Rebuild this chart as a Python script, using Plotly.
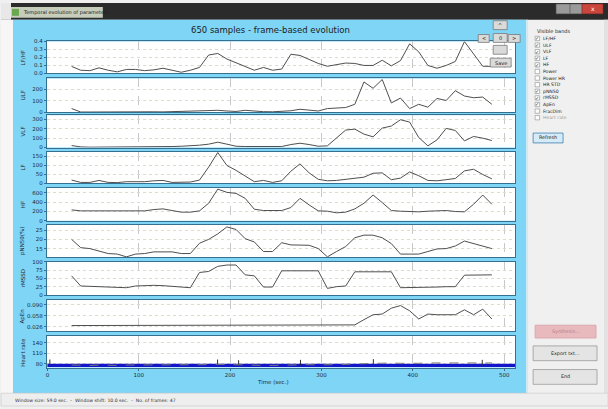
import plotly.graph_objects as go

# ---------------------------------------------------------------- data
frame_time = [26.5, 36.5, 46.5, 56.5, 66.5, 76.5, 86.5, 96.5, 106.5, 116.5,
              126.5, 136.5, 146.5, 156.5, 166.5, 176.5, 186.5, 196.5, 206.5, 216.5,
              226.5, 236.5, 246.5, 256.5, 266.5, 276.5, 286.5, 296.5, 306.5, 316.5,
              326.5, 336.5, 346.5, 356.5, 366.5, 376.5, 386.5, 396.5, 406.5, 416.5,
              426.5, 436.5, 446.5, 456.5, 466.5, 476.5, 486.5]

lf_hf = [0.088, 0.040, 0.035, 0.070, 0.040, 0.020, 0.050, 0.050, 0.035, 0.045,
         0.065, 0.040, 0.015, 0.040, 0.075, 0.230, 0.250, 0.180, 0.130, 0.090,
         0.040, 0.075, 0.040, 0.055, 0.240, 0.225, 0.175, 0.125, 0.090, 0.110,
         0.130, 0.125, 0.100, 0.100, 0.165, 0.095, 0.160, 0.370, 0.270, 0.100,
         0.065, 0.100, 0.150, 0.398, 0.240, 0.090, 0.088]

ulf = [33, 3, 3, 4, 3, 2, 3, 4, 3, 5,
       4, 6, 5, 8, 12, 10, 18, 12, 8, 18,
       10, 6, 5, 8, 14, 27, 18, 12, 33, 39,
       42, 70, 264, 209, 285, 82, 124, 33, 70, 45,
       121, 103, 188, 142, 127, 133, 70]

vlf = [21, 7, 4, 4, 4, 4, 4, 4, 4, 7,
       11, 11, 14, 18, 25, 36, 57, 36, 14, 11,
       11, 7, 7, 11, 32, 46, 32, 14, 18, 100,
       186, 196, 143, 114, 207, 229, 296, 271, 107, 18,
       82, 204, 182, 71, 118, 100, 75]

lf = [18, 5, 5, 16, 5, 4, 9, 9, 9, 14,
      16, 5, 4, 7, 18, 90, 171, 99, 72, 40,
      9, 16, 5, 14, 67, 108, 58, 22, 14, 16,
      22, 29, 34, 56, 58, 20, 29, 63, 42, 16,
      14, 20, 27, 69, 78, 49, 25]

hf = [233, 212, 212, 212, 212, 212, 212, 212, 212, 240,
      254, 219, 184, 184, 212, 375, 678, 608, 587, 480,
      247, 219, 212, 219, 283, 480, 339, 212, 205, 170,
      184, 254, 375, 551, 389, 219, 205, 191, 191, 205,
      219, 219, 198, 191, 353, 551, 353]

pnn50 = [20.0, 15.5, 15.0, 13.6, 12.3, 12.0, 10.5, 12.0, 12.3, 13.2,
         13.2, 13.2, 12.3, 12.3, 17.9, 20.0, 23.0, 26.8, 25.4, 20.4,
         18.6, 13.4, 13.4, 18.2, 17.0, 17.0, 16.8, 15.0, 10.5, 13.4,
         16.1, 20.9, 22.3, 22.3, 20.9, 17.7, 12.0, 12.0, 12.0, 13.4,
         14.8, 15.0, 16.4, 19.1, 17.7, 16.4, 15.0]

rmssd = [57.6, 27.3, 26.3, 25.3, 23.2, 23.2, 22.2, 27.3, 29.3, 29.3,
         28.3, 26.3, 22.2, 22.2, 67.7, 70.7, 85.9, 89.9, 89.9, 60.6,
         57.6, 24.2, 24.2, 72.7, 72.7, 72.7, 72.7, 72.7, 20.2, 25.3,
         27.3, 69.7, 69.7, 69.7, 69.7, 69.7, 22.2, 22.2, 23.2, 24.2,
         24.2, 25.3, 25.3, 59.6, 60.6, 60.6, 60.6]

apen = [0.0298, 0.0298, 0.0298, 0.0298, 0.0298, 0.0300, 0.0300, 0.0300, 0.0300, 0.0302,
        0.0302, 0.0305, 0.0305, 0.0308, 0.0310, 0.0315, 0.0317, 0.0317, 0.0312, 0.0310,
        0.0308, 0.0305, 0.0305, 0.0305, 0.0308, 0.0310, 0.0308, 0.0305, 0.0305, 0.0308,
        0.0310, 0.0317, 0.0470, 0.0613, 0.0633, 0.0804, 0.0880, 0.0728, 0.0489, 0.0633,
        0.0613, 0.0613, 0.0613, 0.0757, 0.0613, 0.0776, 0.0489]

# frame-averaged heart rate (bpm)
hr_frame = [76, 75, 75, 76, 75, 75, 76, 76, 75, 76,
            76, 75, 75, 76, 77, 77, 78, 77, 76, 76,
            76, 75, 75, 76, 77, 78, 77, 76, 76, 77,
            78, 79, 80, 82, 83, 82, 81, 80, 81, 82,
            82, 81, 82, 83, 82, 81, 82]

# sample-level heart rate trace (bpm)
hr_sample_time = [0, 25, 50, 75, 100, 125, 150, 175, 200, 225, 250, 275, 300,
                  325, 350, 375, 400, 425, 450, 475, 500, 512]
hr_sample = [75, 75, 74, 75, 75, 74, 75, 75, 74, 75, 75, 75, 74,
             75, 75, 75, 74, 75, 75, 74, 75, 75]

# isolated beats with high instantaneous rate
hr_spike_time = [2.7, 186.3, 209.3, 277.0, 356.8, 476.0]
hr_spike_value = [92, 92, 90, 91, 93, 91]

panel_names = ["LF/HF", "ULF", "VLF", "LF", "HF", "pNN50(%)", "rMSSD", "ApEn", "Heart rate"]
panel_series = [lf_hf, ulf, vlf, lf, hf, pnn50, rmssd, apen, None]
panel_ranges = [[0, 0.4], [0, 295], [0, 343], [0, 175], [0, 707],
                [10.3, 28.0], [0, 100], [0.0136, 0.104], [68.6, 160]]
panel_ticks = [[0, 0.1, 0.2, 0.3, 0.4], [0, 100, 200], [0, 100, 200, 300],
               [0, 50, 100, 150], [0, 200, 400, 600], [10, 15, 20, 25],
               [0, 25, 50, 75, 100], [0.026, 0.058, 0.090], [80, 110, 140]]
panel_ticktext = [["0.0", "0.1", "0.2", "0.3", "0.4"], ["0", "100", "200"],
                  ["0", "100", "200", "300"], ["0", "50", "100", "150"],
                  ["0", "200", "400", "600"], ["10", "15", "20", "25"],
                  ["0", "25", "50", "75", "100"], ["0.026", "0.058", "0.090"],
                  ["80", "110", "140"]]
time_ticks = [0, 100, 200, 300, 400, 500]

band_labels = ["LF/HF", "ULF", "VLF", "LF", "HF", "Power", "Power HR", "HR STD",
               "pNN50", "rMSSD", "ApEn", "FracDim", "Heart rate"]
band_checked = [True, True, True, True, True, False, False, False,
                True, True, True, False, False]
band_enabled = [True] * 12 + [False]

# ---------------------------------------------------------------- layout helpers
W, H = 608, 409


def px(x):
    return x / W


def py(y):
    return 1 - y / H


PANEL_PX = [(39, 71.5), (76.5, 111), (114, 146.7), (151, 183), (187.5, 221),
            (225, 258), (262.5, 296.5), (301.5, 333), (338, 370)]
PLOT_X0, PLOT_X1 = 46, 515
BORDER = "#35708e"
SKY = "#7fd5f6"
PANEL_GREY = "#f0f0f0"
LINE_GREY = "#4f4f4f"
TXT = "#1e2a3a"
FONT = "DejaVu Sans"

fig = go.Figure()
layout = {}

for i, name in enumerate(panel_names):
    n = i + 1
    sx = "" if n == 1 else str(n)
    xa, ya = "x" + sx, "y" + sx
    top, bot = PANEL_PX[i]
    if panel_series[i] is not None:
        fig.add_trace(go.Scatter(x=frame_time, y=panel_series[i], mode="lines",
                                 line=dict(color=LINE_GREY, width=1),
                                 xaxis=xa, yaxis=ya, showlegend=False, hoverinfo="skip"))
    layout["xaxis" + sx] = dict(
        domain=[px(PLOT_X0), px(PLOT_X1)], anchor=ya, range=[-0.5, 512],
        showline=True, mirror=True, linecolor=BORDER, linewidth=1.1,
        showgrid=True, gridcolor="#c8c8c8", gridwidth=0.7, griddash="dash",
        zeroline=False, tickmode="array", tickvals=time_ticks,
        showticklabels=(n == 9), ticks="outside" if n == 9 else "", ticklen=2,
        tickcolor=BORDER, tickfont=dict(size=5.5, color=TXT, family=FONT))
    layout["yaxis" + sx] = dict(
        domain=[py(bot), py(top)], anchor=xa, range=panel_ranges[i],
        showline=True, mirror=True, linecolor=BORDER, linewidth=1.1,
        showgrid=True, gridcolor="#dcdccc", gridwidth=0.7, griddash="dot",
        zeroline=False, tickmode="array", tickvals=panel_ticks[i],
        ticktext=panel_ticktext[i], ticks="outside", ticklen=2, tickcolor=BORDER,
        tickfont=dict(size=5.5, color=TXT, family=FONT))

# heart-rate panel
fig.add_trace(go.Scatter(x=hr_sample_time, y=hr_sample, mode="lines",
                         line=dict(color="#1414c8", width=3.2),
                         xaxis="x9", yaxis="y9", showlegend=False, hoverinfo="skip"))
spike_x, spike_y = [], []
for t, v in zip(hr_spike_time, hr_spike_value):
    spike_x += [t, t, None]
    spike_y += [hr_sample[0], v, None]
fig.add_trace(go.Scatter(x=spike_x, y=spike_y, mode="lines",
                         line=dict(color="#303030", width=1),
                         xaxis="x9", yaxis="y9", showlegend=False, hoverinfo="skip"))
fig.add_trace(go.Scatter(x=frame_time, y=hr_frame, mode="lines",
                         line=dict(color="#7a7a7a", width=1, dash="dash"),
                         xaxis="x9", yaxis="y9", showlegend=False, hoverinfo="skip"))

shapes = []
annotations = []


def rect(x0, y0, x1, y1, fill, line=None, lw=0, layer="below"):
    shapes.append(dict(type="rect", xref="paper", yref="paper",
                       x0=px(x0), x1=px(x1), y0=py(y1), y1=py(y0),
                       fillcolor=fill, line=dict(color=line or fill, width=lw),
                       layer=layer))


def text(x, y, s, size=6, color=TXT, anchor="left", angle=0, family=FONT):
    annotations.append(dict(x=px(x), y=py(y), xref="paper", yref="paper", text=s,
                            showarrow=False, xanchor=anchor, yanchor="middle",
                            textangle=angle,
                            font=dict(size=size, color=color, family=family)))


# window chrome
rect(0, 0, 608, 409, PANEL_GREY)
rect(0, 0, 608, 17, "#2b2b2b")
rect(0, 0, 10, 17, "#e8e8e8")
rect(10, 4, 102, 15, "#c6cdbb")
rect(11, 6, 18, 13, "#6aa84f")
text(20, 10, "Temporal evolution of parameters", size=5, color="#202020")
rect(556, 1, 570, 11, "#9a9a9a", "#5a5a5a", 0.5)
rect(570, 1, 582, 11, "#9a9a9a", "#5a5a5a", 0.5)
rect(582, 1, 603, 11, "#c9463d", "#7a2a24", 0.5)
text(592.5, 6, "x", size=6, color="white", anchor="center")
rect(0, 17, 12, 396, "#f6f6f6")
rect(12, 17, 526, 396, SKY)
rect(526, 17, 528, 396, "#cfe9f3")
rect(604, 17, 608, 396, "#e2e2e2")
rect(0, 396, 608, 409, "#eeeeee", "#c8c8c8", 0.6)
text(12, 403, "Window size: 59.0 sec.  -  Window shift: 10.0 sec.  -  No. of frames: 47",
     size=4.6, color="#303030")

# white plotting areas behind the traces
for top, bot in PANEL_PX:
    rect(PLOT_X0, top, PLOT_X1, bot, "white")

# title and axis labels
text(270, 27, "650 samples - frame-based evolution", size=8.5, color="#1c1c1c",
     anchor="center")
for (top, bot), name in zip(PANEL_PX, panel_names):
    text(22, (top + bot) / 2, name, size=5.5, angle=-90, anchor="center")
text(272, 385, "Time (sec.)", size=5.5, anchor="center")

# navigation buttons
for (x0, y0, x1, y1, lab) in [(493, 18, 507, 27, "^"), (478, 32, 489, 40, "<"),
                              (493, 31, 507, 40, "0"), (508, 32, 520, 40, ">"),
                              (493, 43, 507, 52, ""), (490, 56, 511, 65, "Save")]:
    rect(x0, y0, x1, y1, "#dadada", "#7a7a7a", 0.8, layer="above")
    if lab:
        text((x0 + x1) / 2, (y0 + y1) / 2, lab, size=5, anchor="center", color="#202020")

# band selector
text(535, 28, "Visible bands", size=5, color="#202020")
for i, (lab, chk, en) in enumerate(zip(band_labels, band_checked, band_enabled)):
    yc = 36 + 6.7 * i
    rect(535, yc - 2.2, 539.5, yc + 2.2, "white", "#8a8a8a", 0.6, layer="above")
    if chk:
        text(537.3, yc, "✓", size=5, color="#2a4a2a", anchor="center")
    text(541, yc, lab, size=4.6, color="#202020" if en else "#a0a0a0")

# command buttons
rect(533, 132, 563, 142, "#d6ebf8", "#3c7fb1", 0.8, layer="above")
text(548, 137, "Refresh", size=4.8, anchor="center", color="#202020")
rect(535, 327, 596, 340, "#e8b9bd", "#d8a0a6", 0.8, layer="above")
text(565.5, 333.5, "Synthesis...", size=4.8, anchor="center", color="#b88088")
rect(533, 348, 597, 363, "#e4e4e4", "#9a9a9a", 0.8, layer="above")
text(565, 355.5, "Export txt...", size=4.8, anchor="center", color="#202020")
rect(533, 372, 597, 387, "#e4e4e4", "#9a9a9a", 0.8, layer="above")
text(565, 379.5, "End", size=4.8, anchor="center", color="#202020")

fig.update_layout(width=W, height=H, margin=dict(l=0, r=0, t=0, b=0),
                  paper_bgcolor=PANEL_GREY, plot_bgcolor="white",
                  shapes=shapes, annotations=annotations, showlegend=False,
                  **layout)

fig.write_html("out.html")
